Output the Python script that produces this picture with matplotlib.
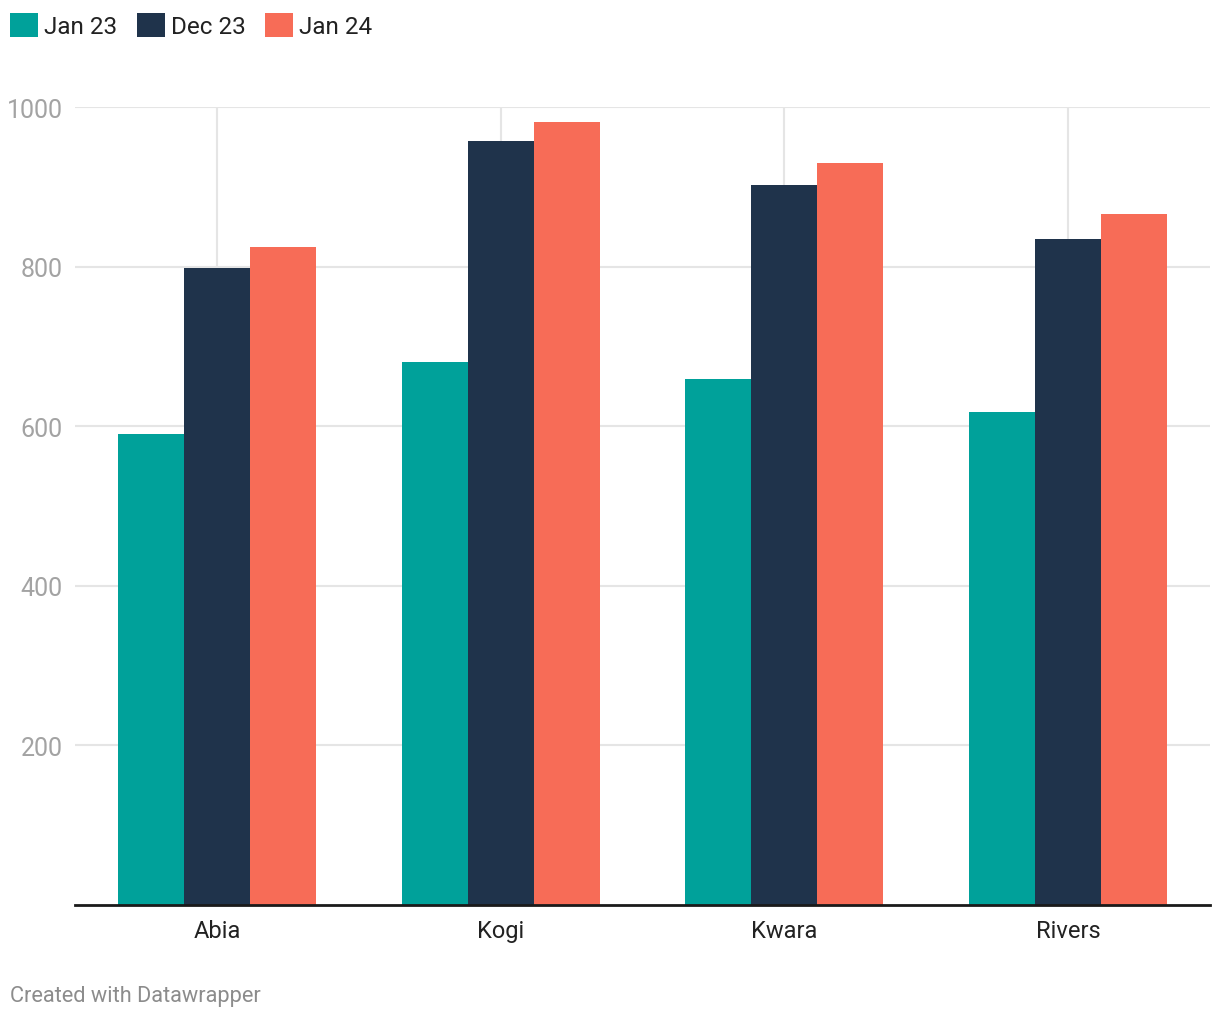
"""
Grouped bar chart: three periods per state
"""

import matplotlib.pyplot as plt
import numpy as np

plt.rcParams['font.family'] = ['Roboto', 'DejaVu Sans']

# ========== Data ==========
states = ['Abia', 'Kogi', 'Kwara', 'Rivers']
series_names = ['Jan 23', 'Dec 23', 'Jan 24']
jan23 = [590, 680, 659, 618]
dec23 = [798, 957, 902, 835]
jan24 = [825, 981, 930, 866]
y_ticks = [200, 400, 600, 800, 1000]

colors = ['#00a19a', '#1f334b', '#f76c57']
grid_color = '#e5e5e5'

# ========== Plot ==========
fig = plt.figure(figsize=(12.2, 10.2), dpi=100)
ax = fig.add_axes([75 / 1220, 114 / 1020, 1135 / 1220, 798 / 1020])

x = np.arange(len(states)) + 0.5
width = 0.2326
for i, (vals, name) in enumerate(zip((jan23, dec23, jan24), series_names)):
    ax.bar(x + (i - 1) * width, vals, width=width, color=colors[i],
           label=name, zorder=3, linewidth=0)

ax.set_xlim(0, len(states))
ax.set_ylim(0, 1000)
ax.set_xticks(x)
ax.set_xticklabels(states, fontsize=17, color='#222222')
ax.set_yticks(y_ticks)
ax.set_yticklabels([str(t) for t in y_ticks], fontsize=18, color='#a3a3a3')
ax.tick_params(axis='both', length=0)
ax.tick_params(axis='y', pad=9)
ax.tick_params(axis='x', pad=10)

ax.grid(True, color=grid_color, linewidth=1.5, zorder=0)
for side in ('top', 'right', 'left'):
    ax.spines[side].set_visible(False)
ax.spines['bottom'].set_linewidth(2)
ax.spines['bottom'].set_color('#1a1a1a')
ax.spines['bottom'].set_zorder(4)

leg = fig.legend(loc='upper left', bbox_to_anchor=(10 / 1220, 1 - 14 / 1020),
                 ncol=3, frameon=False, fontsize=17.5, borderpad=0,
                 borderaxespad=0, handlelength=1.15, handleheight=1.15,
                 handletextpad=0.25, columnspacing=0.8)
for t in leg.get_texts():
    t.set_color('#222222')

fig.text(10 / 1220, 1 - 997 / 1020, 'Created with Datawrapper', fontsize=15.7,
         color='#8c8c8c', va='center', ha='left')

plt.savefig('out.png', dpi=fig.dpi)
